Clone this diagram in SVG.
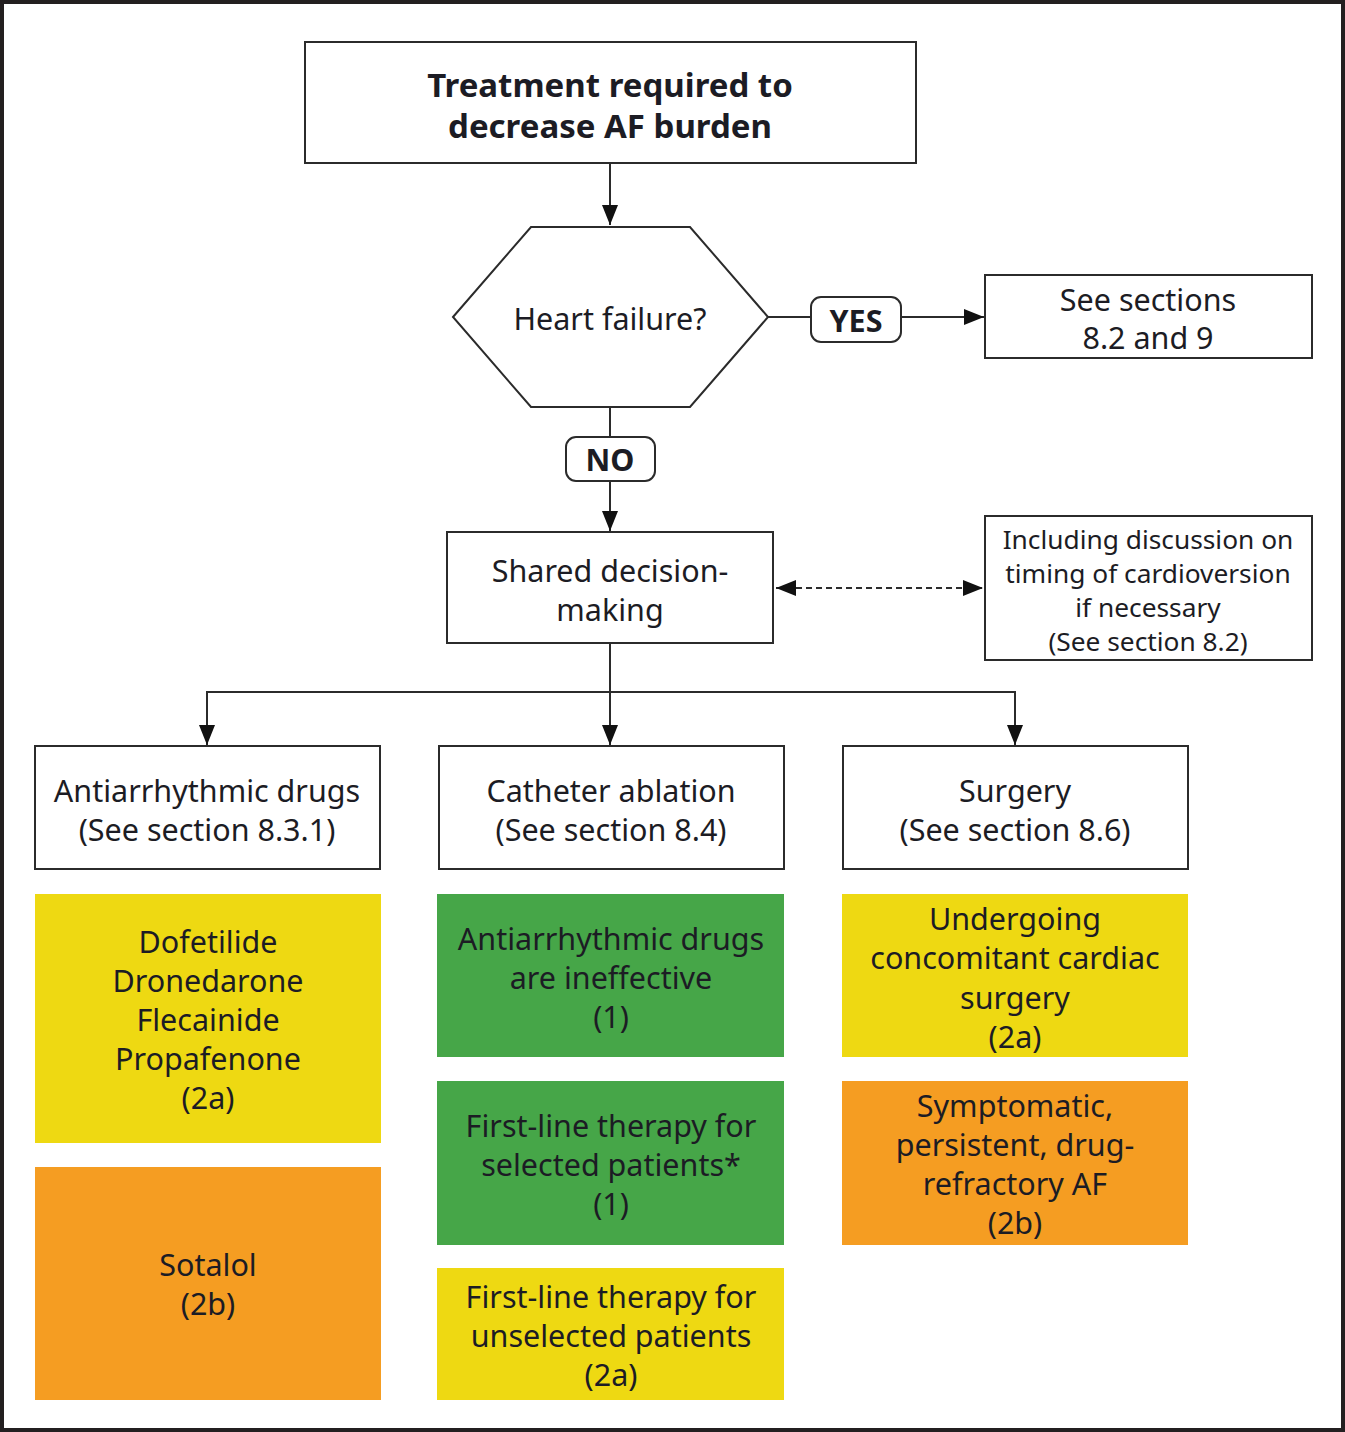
<svg xmlns="http://www.w3.org/2000/svg" width="1345" height="1432" viewBox="0 0 1345 1432">
<defs>
<style>
.box{fill:#fff;stroke:#2b2b2b;stroke-width:2}
.t{font-family:"Noto Sans","Liberation Sans",sans-serif;font-size:30.5px;fill:#1c1c24;text-anchor:middle;dominant-baseline:central}
.s{font-size:26.3px}
.b{font-weight:bold;font-size:33px}
.ln{stroke:#2b2b2b;stroke-width:2;fill:none}
.yel{fill:#eed912}
.ora{fill:#f59d22}
.grn{fill:#46a648}
</style>
<marker id="arr" viewBox="0 0 20 20" refX="20" refY="10" markerWidth="20" markerHeight="20" markerUnits="userSpaceOnUse" orient="auto-start-reverse">
<path d="M0,2 L20,10 L0,18 Z" fill="#111"/>
</marker>
</defs>
<rect x="2" y="2" width="1341" height="1428" fill="#fff" stroke="#231f20" stroke-width="4"/>

<g id="connectors">
<line class="ln" x1="610" y1="163" x2="610" y2="225" marker-end="url(#arr)"/>
<line class="ln" x1="768" y1="317" x2="811" y2="317"/>
<line class="ln" x1="901" y1="317" x2="984" y2="317" marker-end="url(#arr)"/>
<line class="ln" x1="610" y1="407" x2="610" y2="437"/>
<line class="ln" x1="610" y1="481" x2="610" y2="531" marker-end="url(#arr)"/>
<line class="ln" x1="776" y1="588" x2="983" y2="588" stroke-dasharray="6,4" marker-start="url(#arr)" marker-end="url(#arr)"/>
<line class="ln" x1="610" y1="643" x2="610" y2="745" marker-end="url(#arr)"/>
<polyline class="ln" points="207,745 207,692 1015,692 1015,745" marker-start="url(#arr)" marker-end="url(#arr)"/>
</g>

<g id="start">
<rect class="box" x="305" y="42" width="611" height="121"/>
<text class="t b" x="610" y="84">Treatment required to</text>
<text class="t b" x="610" y="125">decrease AF burden</text>
</g>

<g id="heart-failure">
<polygon class="box" points="453,317 531,227 690,227 768,317 690,407 531,407"/>
<text class="t" x="610" y="318">Heart failure?</text>
</g>

<g id="yes-label">
<rect class="box" x="811" y="297" width="90" height="45" rx="10"/>
<text class="t" x="856" y="320" font-weight="bold" font-size="27">YES</text>
</g>

<g id="see-sections">
<rect class="box" x="985" y="275" width="327" height="83"/>
<text class="t" x="1148" y="299">See sections</text>
<text class="t" x="1148" y="337">8.2 and 9</text>
</g>

<g id="no-label">
<rect class="box" x="566" y="437" width="89" height="44" rx="10"/>
<text class="t" x="610" y="459" font-weight="bold" font-size="27">NO</text>
</g>

<g id="shared">
<rect class="box" x="447" y="532" width="326" height="111"/>
<text class="t" x="610" y="570">Shared decision-</text>
<text class="t" x="610" y="609">making</text>
</g>

<g id="including">
<rect class="box" x="985" y="516" width="327" height="144"/>
<text class="t s" x="1148" y="539">Including discussion on</text>
<text class="t s" x="1148" y="573">timing of cardioversion</text>
<text class="t s" x="1148" y="607">if necessary</text>
<text class="t s" x="1148" y="641">(See section 8.2)</text>
</g>

<g id="aad">
<rect class="box" x="35" y="746" width="345" height="123"/>
<text class="t" x="207" y="790">Antiarrhythmic drugs</text>
<text class="t" x="207" y="829">(See section 8.3.1)</text>
</g>

<g id="ablation">
<rect class="box" x="439" y="746" width="345" height="123"/>
<text class="t" x="611" y="790">Catheter ablation</text>
<text class="t" x="611" y="829">(See section 8.4)</text>
</g>

<g id="surgery">
<rect class="box" x="843" y="746" width="345" height="123"/>
<text class="t" x="1015" y="790">Surgery</text>
<text class="t" x="1015" y="829">(See section 8.6)</text>
</g>

<g id="aad-2a">
<rect class="yel" x="35" y="894" width="346" height="249"/>
<text class="t" x="208" y="941">Dofetilide</text>
<text class="t" x="208" y="980">Dronedarone</text>
<text class="t" x="208" y="1019">Flecainide</text>
<text class="t" x="208" y="1058">Propafenone</text>
<text class="t" x="208" y="1097">(2a)</text>
</g>

<g id="aad-2b">
<rect class="ora" x="35" y="1167" width="346" height="233"/>
<text class="t" x="208" y="1264">Sotalol</text>
<text class="t" x="208" y="1303">(2b)</text>
</g>

<g id="abl-1a">
<rect class="grn" x="437" y="894" width="347" height="163"/>
<text class="t" x="611" y="938">Antiarrhythmic drugs</text>
<text class="t" x="611" y="977">are ineffective</text>
<text class="t" x="611" y="1016">(1)</text>
</g>

<g id="abl-1b">
<rect class="grn" x="437" y="1081" width="347" height="164"/>
<text class="t" x="611" y="1125">First-line therapy for</text>
<text class="t" x="611" y="1164">selected patients*</text>
<text class="t" x="611" y="1203">(1)</text>
</g>

<g id="abl-2a">
<rect class="yel" x="437" y="1268" width="347" height="132"/>
<text class="t" x="611" y="1296">First-line therapy for</text>
<text class="t" x="611" y="1335">unselected patients</text>
<text class="t" x="611" y="1374">(2a)</text>
</g>

<g id="surg-2a">
<rect class="yel" x="842" y="894" width="346" height="163"/>
<text class="t" x="1015" y="918">Undergoing</text>
<text class="t" x="1015" y="957">concomitant cardiac</text>
<text class="t" x="1015" y="997">surgery</text>
<text class="t" x="1015" y="1036">(2a)</text>
</g>

<g id="surg-2b">
<rect class="ora" x="842" y="1081" width="346" height="164"/>
<text class="t" x="1015" y="1105">Symptomatic,</text>
<text class="t" x="1015" y="1144">persistent, drug-</text>
<text class="t" x="1015" y="1183">refractory AF</text>
<text class="t" x="1015" y="1222">(2b)</text>
</g>
</svg>
